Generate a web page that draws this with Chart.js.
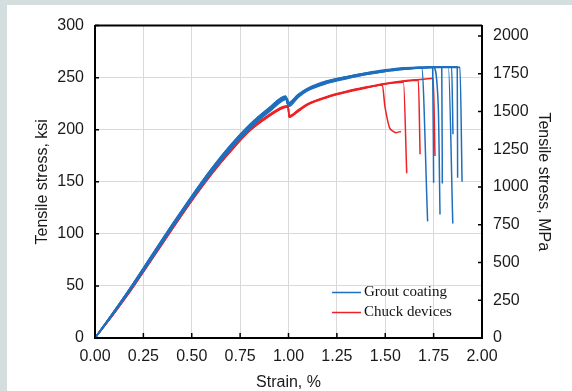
<!DOCTYPE html>
<html>
<head>
<meta charset="utf-8">
<script src="https://cdn.jsdelivr.net/npm/chart.js@4.4.1/dist/chart.umd.min.js"></script>
<style>
  html, body { margin: 0; padding: 0; background: #d5dede; width: 572px; height: 391px; overflow: hidden; }
  #panel { position: absolute; left: 7px; top: 5px; width: 565px; height: 386px; background: #ffffff; }
  canvas { display: block; }
</style>
</head>
<body>
<div id="panel"><canvas id="c" width="565" height="386"></canvas></div>
<script>
// ---------- DATA (strain %, tensile stress ksi) ----------
const seriesNames = ["Grout coating", "Chuck devices"];
const xTicks = [0, 0.25, 0.5, 0.75, 1.0, 1.25, 1.5, 1.75, 2.0];
const ksiTicks = [0, 50, 100, 150, 200, 250, 300];
const mpaTicks = [0, 250, 500, 750, 1000, 1250, 1500, 1750, 2000];
const KSI_TO_MPA = 6.89476;

// Grout coating specimens
const grout1 = [[0,0],[0.1,26],[0.2,53],[0.3,81],[0.4,109],[0.5,136],[0.6,162],[0.7,185],[0.8,205],[0.9,221],[0.985,232.5],[0.995,225],[1.05,234],[1.1,240],[1.2,247],[1.3,251],[1.4,254.5],[1.5,257.5],[1.6,259.5],[1.688,260],[1.719,112]];
const grout2 = [[0,0],[0.1,25],[0.2,51],[0.3,79],[0.4,107],[0.5,134],[0.6,159],[0.7,182],[0.8,202],[0.9,218],[0.99,230.5],[1.0,223.5],[1.05,232],[1.1,238.5],[1.2,245.5],[1.3,250],[1.4,253.5],[1.5,256.5],[1.6,258.5],[1.7,259.5],[1.745,260],[1.75,149]];
const grout3 = [[0,0],[0.1,26],[0.2,53],[0.3,81],[0.4,108],[0.5,135],[0.6,161],[0.7,184],[0.8,204],[0.9,220],[0.985,231.5],[0.995,225],[1.05,233],[1.1,239],[1.2,246],[1.3,250.5],[1.4,254],[1.5,257],[1.6,259],[1.7,260],[1.748,260.5],[1.774,222.6],[1.783,118.5]];
const grout4 = [[0,0],[0.1,24.5],[0.2,50.5],[0.3,78],[0.4,106],[0.5,133],[0.6,158],[0.7,181],[0.8,201],[0.9,217],[0.995,229.5],[1.003,222.5],[1.05,231],[1.1,237.5],[1.2,244.5],[1.3,249],[1.4,253],[1.5,256],[1.6,258],[1.7,259.5],[1.792,260.5],[1.795,148.4]];
const grout5 = [[0,0],[0.1,26],[0.2,52.5],[0.3,80.5],[0.4,108.5],[0.5,136],[0.6,161],[0.7,184.5],[0.8,204.5],[0.9,220.5],[0.985,232],[0.998,226],[1.05,233.5],[1.1,239.5],[1.2,246.5],[1.3,251],[1.4,254.5],[1.5,257],[1.6,259],[1.7,260],[1.826,260.5],[1.849,110]];
const grout6 = [[0,0],[0.1,25],[0.2,51.5],[0.3,79.5],[0.4,107],[0.5,134],[0.6,159.5],[0.7,182.5],[0.8,202.5],[0.9,218.5],[0.99,230],[1.0,224],[1.05,232],[1.1,238],[1.2,245],[1.3,249.5],[1.4,253],[1.5,256],[1.6,258],[1.7,259.5],[1.843,260.5],[1.85,195.6]];
const grout7 = [[0,0],[0.1,26],[0.2,53],[0.3,81.5],[0.4,109.5],[0.5,136.5],[0.6,162],[0.7,185],[0.8,205],[0.9,221],[0.985,232],[0.995,224.5],[1.05,233],[1.1,239],[1.2,246],[1.3,250.5],[1.4,254],[1.5,257],[1.6,259],[1.7,260],[1.872,260.5],[1.874,154]];
const grout8 = [[0,0],[0.1,25],[0.2,52],[0.3,80],[0.4,108],[0.5,135],[0.6,160],[0.7,183],[0.8,203],[0.9,219],[0.99,231],[1.0,225],[1.05,232.5],[1.1,238.5],[1.2,245.5],[1.3,250],[1.4,253.5],[1.5,256.5],[1.6,258.5],[1.7,259.5],[1.886,260],[1.897,150]];

// Chuck device specimens
const chuck1 = [[0,0],[0.1,24],[0.2,50],[0.3,77.5],[0.4,105],[0.5,132],[0.6,157],[0.7,179],[0.8,199],[0.9,213],[0.97,220.5],[0.998,222],[1.003,212],[1.05,217.5],[1.1,224],[1.2,231],[1.3,236],[1.4,240],[1.485,243],[1.498,222.6],[1.511,210],[1.522,202],[1.539,198.7],[1.556,197.2],[1.581,198.4]];
const chuck2 = [[0,0],[0.1,24.5],[0.2,50.5],[0.3,78],[0.4,105.5],[0.5,132.5],[0.6,157.5],[0.7,180],[0.8,200],[0.9,214],[0.97,221.5],[0.998,222.5],[1.003,213],[1.05,218.5],[1.1,224.5],[1.2,231.5],[1.3,236.5],[1.4,240.5],[1.5,244],[1.594,245.5],[1.611,158.3]];
const chuck3 = [[0,0],[0.1,24],[0.2,49.5],[0.3,77],[0.4,104.5],[0.5,131.5],[0.6,156.5],[0.7,179],[0.8,199],[0.9,213],[0.97,221],[0.998,222],[1.003,212],[1.05,218],[1.1,224.5],[1.2,231.5],[1.3,236.5],[1.4,240.5],[1.5,244],[1.6,246.5],[1.671,247.5],[1.68,176.5]];
const chuck4 = [[0,0],[0.1,24.5],[0.2,50.5],[0.3,78.5],[0.4,106],[0.5,133],[0.6,158],[0.7,180.5],[0.8,200.5],[0.9,214.5],[0.97,222],[0.998,223],[1.003,213.5],[1.05,219],[1.1,225],[1.2,232],[1.3,237],[1.4,241],[1.5,244.5],[1.6,247],[1.7,248.5],[1.748,249.4],[1.757,174.8]];

const groutSpecimens = [grout1, grout2, grout3, grout4, grout5, grout6, grout7, grout8];
const chuckSpecimens = [chuck1, chuck2, chuck3, chuck4];

// ---------- STYLE ----------
const BLUE = '#1f6fbd';
const RED = '#ee2226';
Chart.defaults.font.family = "'Liberation Sans', Arial, sans-serif";
Chart.defaults.color = '#1a1a1a';

const toPts = arr => arr.map(([x, y]) => ({ x, y }));
const datasets = [];
groutSpecimens.forEach(s => datasets.push({
  label: seriesNames[0], data: toPts(s), borderColor: BLUE, backgroundColor: BLUE,
  borderWidth: 1.5, pointRadius: 0, cubicInterpolationMode: 'monotone', fill: false
}));
chuckSpecimens.forEach(s => datasets.push({
  label: seriesNames[1], data: toPts(s), borderColor: RED, backgroundColor: RED,
  borderWidth: 1.5, pointRadius: 0, cubicInterpolationMode: 'monotone', fill: false
}));

const frameAndTicks = {
  id: 'frameAndTicks',
  afterDraw(chart) {
    const { ctx, chartArea: ca, scales } = chart;
    ctx.save();
    ctx.strokeStyle = '#000';
    ctx.lineWidth = 2;
    ctx.beginPath();
    ctx.moveTo(ca.left, ca.top); ctx.lineTo(ca.right, ca.top);
    ctx.stroke();
    ctx.lineWidth = 1.5;
    ctx.beginPath();
    xTicks.forEach(v => { const p = scales.x.getPixelForValue(v); ctx.moveTo(p, ca.bottom); ctx.lineTo(p, ca.bottom - 5); });
    ksiTicks.forEach(v => { const p = scales.y.getPixelForValue(v); ctx.moveTo(ca.left, p); ctx.lineTo(ca.left + 4, p); });
    mpaTicks.forEach(v => { const p = scales.y2.getPixelForValue(v); ctx.moveTo(ca.right, p); ctx.lineTo(ca.right - 4, p); });
    ctx.stroke();

    // legend
    const colors = [BLUE, RED];
    ctx.font = "15px 'Liberation Serif', 'Times New Roman', serif";
    ctx.textBaseline = 'middle';
    ctx.textAlign = 'left';
    seriesNames.forEach((name, i) => {
      const y = ca.bottom - 45.5 + i * 20;
      ctx.strokeStyle = colors[i];
      ctx.lineWidth = 1.5;
      ctx.beginPath(); ctx.moveTo(ca.right - 150, y); ctx.lineTo(ca.right - 121, y); ctx.stroke();
      ctx.fillStyle = '#111';
      ctx.fillText(name, ca.right - 118, y);
    });
    ctx.restore();
  }
};

new Chart(document.getElementById('c'), {
  type: 'line',
  data: { datasets },
  options: {
    responsive: false,
    animation: false,
    devicePixelRatio: 1,
    parsing: false,
    layout: { padding: { top: 19, left: 0, right: 0, bottom: 0 } },
    plugins: { legend: { display: false }, tooltip: { enabled: false } },
    scales: {
      x: {
        type: 'linear', min: 0, max: 2,
        afterFit: s => { s.height = 53; },
        afterBuildTicks: s => { s.ticks = xTicks.map(v => ({ value: v })); },
        ticks: { padding: 9, font: { size: 16 }, callback: v => v.toFixed(2), maxRotation: 0 },
        grid: { color: '#d9d9d9', lineWidth: 1, drawTicks: false },
        border: { display: true, color: '#000', width: 2 },
        title: { display: true, text: 'Strain, %', font: { size: 16, lineHeight: 1 }, padding: { top: 0, bottom: 0 }, color: '#1a1a1a' }
      },
      y: {
        type: 'linear', position: 'left', min: 0, max: 300,
        afterFit: s => { s.width = 88; },
        afterBuildTicks: s => { s.ticks = ksiTicks.map(v => ({ value: v })); },
        ticks: { padding: 11, font: { size: 16 }, callback: v => String(v) },
        grid: { color: '#d9d9d9', lineWidth: 1, drawTicks: false },
        border: { display: true, color: '#000', width: 2 },
        title: { display: true, text: 'Tensile stress, ksi', font: { size: 16, lineHeight: 1 }, padding: { top: 28, bottom: 0 }, color: '#1a1a1a' }
      },
      y2: {
        type: 'linear', position: 'right', min: 0, max: 300 * KSI_TO_MPA,
        afterFit: s => { s.width = 90; },
        afterBuildTicks: s => { s.ticks = mpaTicks.map(v => ({ value: v })); },
        ticks: { padding: 11, font: { size: 16 }, callback: v => String(v) },
        grid: { display: false, drawTicks: false },
        border: { display: true, color: '#000', width: 2 },
        title: { display: true, text: 'Tensile stress, MPa', font: { size: 16, lineHeight: 1 }, padding: { top: 21, bottom: 0 }, color: '#1a1a1a' }
      }
    }
  },
  plugins: [frameAndTicks]
});
</script>
</body>
</html>
